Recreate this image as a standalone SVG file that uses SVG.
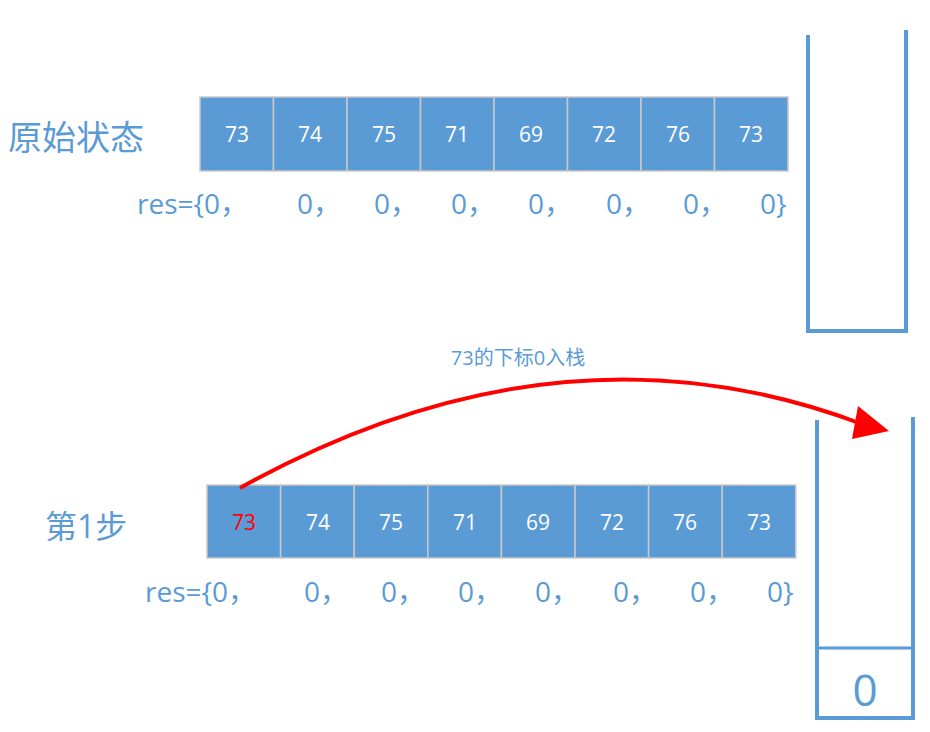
<svg xmlns="http://www.w3.org/2000/svg" width="930" height="732" viewBox="0 0 930 732">
<style>
.cell{fill:#5b9bd5;stroke:#c9c9c9;stroke-width:1.5}
.ct{font-family:"Open Sans","Liberation Sans",sans-serif;font-size:21px;fill:#fff;text-anchor:middle}
.bl{font-family:"Open Sans","Noto Sans CJK SC",sans-serif;fill:#5b9bd5}
.stk{fill:none;stroke:#5b9bd5;stroke-width:4}
</style>
<rect width="930" height="732" fill="#fff"/>
<g id="top-array">
<rect class="cell" x="200" y="97" width="73.5" height="74"/><rect class="cell" x="273.5" y="97" width="73.5" height="74"/><rect class="cell" x="347" y="97" width="73.5" height="74"/><rect class="cell" x="420.5" y="97" width="73.5" height="74"/><rect class="cell" x="494" y="97" width="73.5" height="74"/><rect class="cell" x="567.5" y="97" width="73.5" height="74"/><rect class="cell" x="641" y="97" width="73.5" height="74"/><rect class="cell" x="714.5" y="97" width="73.5" height="74"/>
<text class="ct" x="237" y="142">73</text><text class="ct" x="310" y="142">74</text><text class="ct" x="384" y="142">75</text><text class="ct" x="457" y="142">71</text><text class="ct" x="531" y="142">69</text><text class="ct" x="604" y="142">72</text><text class="ct" x="678" y="142">76</text><text class="ct" x="751" y="142">73</text>
</g>
<g id="labels">
<text class="bl" x="8" y="150" font-size="34">原始状态</text>
<text class="bl" x="45" y="538" font-size="32">第1步</text>
<text class="bl" x="518" y="365" font-size="20" text-anchor="middle">73的下标0入栈</text>
<g font-size="28">
<text class="bl" x="137" y="214">res={0，</text><text class="bl" x="297" y="214">0，</text><text class="bl" x="374" y="214">0，</text><text class="bl" x="451" y="214">0，</text><text class="bl" x="528" y="214">0，</text><text class="bl" x="606" y="214">0，</text><text class="bl" x="683" y="214">0，</text><text class="bl" x="760" y="214">0}</text>
<text class="bl" x="145" y="602">res={0，</text><text class="bl" x="304" y="602">0，</text><text class="bl" x="381" y="602">0，</text><text class="bl" x="458" y="602">0，</text><text class="bl" x="535" y="602">0，</text><text class="bl" x="613" y="602">0，</text><text class="bl" x="690" y="602">0，</text><text class="bl" x="767" y="602">0}</text>
</g>
</g>
<g id="bottom-array">
<rect class="cell" x="207" y="485" width="73.6" height="73"/><rect class="cell" x="280.6" y="485" width="73.6" height="73"/><rect class="cell" x="354.2" y="485" width="73.6" height="73"/><rect class="cell" x="427.8" y="485" width="73.6" height="73"/><rect class="cell" x="501.4" y="485" width="73.6" height="73"/><rect class="cell" x="575" y="485" width="73.6" height="73"/><rect class="cell" x="648.6" y="485" width="73.6" height="73"/><rect class="cell" x="722.2" y="485" width="73.6" height="73"/>
<text class="ct" x="244" y="530" fill="#ff0000" style="fill:#ff0000">73</text><text class="ct" x="318" y="530">74</text><text class="ct" x="391" y="530">75</text><text class="ct" x="465" y="530">71</text><text class="ct" x="538" y="530">69</text><text class="ct" x="612" y="530">72</text><text class="ct" x="685" y="530">76</text><text class="ct" x="759" y="530">73</text>
</g>
<g id="stack-top"><path class="stk" d="M808,35 V331 H906 V30"/></g>
<g id="stack-bottom"><path class="stk" d="M817,420 V718 H913 V417"/><line x1="817" y1="648" x2="913" y2="648" stroke="#5b9bd5" stroke-width="3"/>
<text class="bl" x="865" y="706" font-size="44" text-anchor="middle">0</text></g>
<g id="connectors">
<path d="M240,488 Q560,310 862,424" fill="none" stroke="#ff0000" stroke-width="4"/>
<polygon points="858,406 889,431 852,439" fill="#ff0000"/>
</g>
</svg>
